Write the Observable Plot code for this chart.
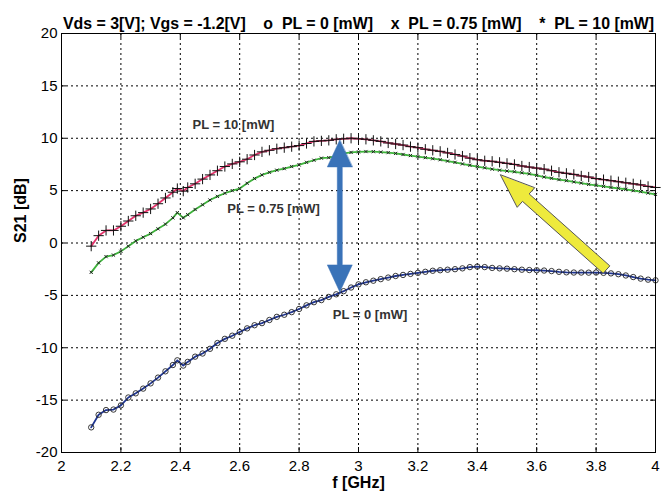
<!DOCTYPE html>
<html><head><meta charset="utf-8">
<script src="https://cdn.jsdelivr.net/npm/d3@7"></script>
<script src="https://cdn.jsdelivr.net/npm/@observablehq/plot@0.6"></script>
<style>body{margin:0;background:#fff}</style>
</head><body><div id="chart"></div>
<script>
// ---- data ----
const freq = [2.1,2.125,2.15,2.175,2.2,2.225,2.25,2.275,2.3,2.325,2.35,2.375,2.39,2.41,
  2.425,2.45,2.475,2.5,2.525,2.55,2.575,2.6,2.625,2.65,2.675,2.7,2.725,2.75,2.775,2.8,2.825,2.85,2.875,2.9,2.925,2.95,2.975,3,
  3.025,3.05,3.075,3.1,3.125,3.15,3.175,3.2,3.225,3.25,3.275,3.3,3.325,3.35,3.375,3.4,3.425,3.45,3.475,3.5,
  3.525,3.55,3.575,3.6,3.625,3.65,3.675,3.7,3.725,3.75,3.775,3.8,3.825,3.85,3.875,3.9,3.925,3.95,3.975,4];
const s21_pl0 = [-17.6,-16.4,-15.95,-15.9,-15.5,-14.75,-14.35,-13.9,-13.4,-12.85,-12.25,-11.65,-11.2,-11.7,
  -11.35,-10.85,-10.55,-10.1,-9.55,-9.15,-8.85,-8.5,-8.15,-7.85,-7.65,-7.35,-7.05,-6.85,-6.6,-6.3,-5.95,-5.65,-5.45,-5.15,-4.9,-4.6,-4.25,-3.95,
  -3.75,-3.6,-3.45,-3.3,-3.15,-3.05,-2.95,-2.85,-2.75,-2.65,-2.6,-2.55,-2.5,-2.42,-2.3,-2.25,-2.3,-2.38,-2.42,-2.45,
  -2.5,-2.55,-2.58,-2.6,-2.63,-2.68,-2.75,-2.8,-2.82,-2.82,-2.83,-2.82,-2.85,-2.9,-2.98,-3.1,-3.25,-3.4,-3.5,-3.56];
const s21_pl075 = [-2.8,-1.9,-1.3,-1.15,-0.8,-0.3,0.2,0.55,0.9,1.35,1.8,2.4,2.9,2.4,
  2.7,3.2,3.65,4.1,4.45,4.75,5.0,5.2,5.7,6.15,6.5,6.75,6.95,7.1,7.3,7.45,7.7,7.9,8.1,8.15,8.3,8.55,8.65,8.7,
  8.73,8.72,8.68,8.63,8.55,8.45,8.35,8.25,8.15,8.05,7.95,7.82,7.7,7.55,7.42,7.3,7.18,7.05,6.95,6.87,
  6.8,6.7,6.6,6.45,6.3,6.18,6.05,5.95,5.83,5.72,5.6,5.5,5.4,5.3,5.22,5.13,5.0,4.9,4.77,4.64];
const s21_pl10 = [-0.3,0.7,1.2,1.2,1.6,2.1,2.6,2.9,3.25,3.75,4.3,4.85,5.2,4.95,
  5.3,5.65,6.1,6.5,6.9,7.3,7.55,7.75,8.0,8.4,8.7,8.85,9.0,9.1,9.2,9.3,9.5,9.7,9.75,9.8,9.9,9.95,10.0,9.95,
  9.9,9.8,9.7,9.55,9.45,9.35,9.2,9.1,8.95,8.85,8.75,8.6,8.45,8.3,8.1,7.95,7.85,7.8,7.7,7.6,
  7.5,7.35,7.25,7.15,7.05,6.9,6.75,6.65,6.55,6.4,6.3,6.15,6.05,5.95,5.85,5.75,5.65,5.55,5.4,5.3];
const xTicks = [2,2.2,2.4,2.6,2.8,3,3.2,3.4,3.6,3.8,4];
const yTicks = [-20,-15,-10,-5,0,5,10,15,20];
const xDomain = [2,4];
const yDomain = [-20,20];
const titleText = "Vds = 3[V]; Vgs = -1.2[V]\u00a0\u00a0\u00a0 o\u00a0 PL = 0 [mW]\u00a0\u00a0\u00a0 x\u00a0 PL = 0.75 [mW]\u00a0\u00a0\u00a0 *\u00a0 PL = 10 [mW]";
const xLabel = "f [GHz]";
const yLabel = "S21 [dB]";
const curveLabels = [
  {f: 2.579, s: 11.27, text: "PL = 10 [mW]"},
  {f: 2.714, s: 3.23, text: "PL = 0.75 [mW]"},
  {f: 3.039, s: -6.84, text: "PL = 0 [mW]"}
];
const blueArrowEnds = {tail: [2.937, -4.67], tip: [2.937, 9.84]};
const yellowArrowEnds = {tail: [3.835, -2.54], tip: [3.478, 6.49]};

// ---- layout ----
const W = 672, H = 497, mL = 61, mR = 17, mT = 33, mB = 45;
const frameW = W - mL - mR, frameH = H - mT - mB;
const kx = frameW / (xDomain[1] - xDomain[0]);
const ky = frameH / (yDomain[1] - yDomain[0]);

function arrowPolygon(tail, tip, headLen, headHalf, shaftHalf, double) {
  const tx = tail[0]*kx, ty = tail[1]*ky, px = tip[0]*kx, py = tip[1]*ky;
  const dx = px - tx, dy = py - ty, L = Math.hypot(dx, dy);
  const ux = dx/L, uy = dy/L, nx = -uy, ny = ux;
  const pt = (a, b) => ({f: a/kx, s: b/ky});
  const bx = px - ux*headLen, by = py - uy*headLen;
  const pts = [pt(px, py), pt(bx + nx*headHalf, by + ny*headHalf), pt(bx + nx*shaftHalf, by + ny*shaftHalf)];
  if (double) {
    const cx = tx + ux*headLen, cy = ty + uy*headLen;
    pts.push(pt(cx + nx*shaftHalf, cy + ny*shaftHalf), pt(cx + nx*headHalf, cy + ny*headHalf), pt(tx, ty),
             pt(cx - nx*headHalf, cy - ny*headHalf), pt(cx - nx*shaftHalf, cy - ny*shaftHalf));
  } else {
    pts.push(pt(tx + nx*shaftHalf, ty + ny*shaftHalf), pt(tx - nx*shaftHalf, ty - ny*shaftHalf));
  }
  pts.push(pt(bx - nx*shaftHalf, by - ny*shaftHalf), pt(bx - nx*headHalf, by - ny*headHalf));
  return pts;
}

const pl0 = freq.map((f, i) => ({f, s: s21_pl0[i]}));
const pl075 = freq.map((f, i) => ({f, s: s21_pl075[i]}));
const pl10 = freq.map((f, i) => ({f, s: s21_pl10[i]}));
const blueArrow = arrowPolygon(blueArrowEnds.tail, blueArrowEnds.tip, 27, 12.5, 2.5, true);
const yellowArrow = arrowPolygon(yellowArrowEnds.tail, yellowArrowEnds.tip, 34, 13, 5, false);

const fmt = d => String(+(+d).toFixed(1));

const chart = Plot.plot({
  width: W, height: H,
  marginLeft: mL, marginRight: mR, marginTop: mT, marginBottom: mB,
  style: {fontFamily: "'Liberation Sans', Arial, sans-serif", background: "white", color: "black"},
  x: {domain: xDomain, label: null},
  y: {domain: yDomain, label: null},
  marks: [
    Plot.gridX(xTicks, {stroke: "black", strokeOpacity: 1, strokeDasharray: "2,3"}),
    Plot.gridY(yTicks, {stroke: "black", strokeOpacity: 1, strokeDasharray: "2,3"}),
    // PL = 0
    Plot.line(pl0, {x: "f", y: "s", stroke: "#1f3590", strokeWidth: 1.8}),
    Plot.dot(pl0, {x: "f", y: "s", r: 2.7, stroke: "#222", strokeWidth: 0.9, fill: "none"}),
    // PL = 0.75
    Plot.line(pl075, {x: "f", y: "s", stroke: "#3fb43c", strokeWidth: 1.8}),
    Plot.dot(pl075, {x: "f", y: "s", symbol: "times", r: 1.6, stroke: "#222", strokeWidth: 1}),
    // PL = 10
    Plot.line(pl10, {x: "f", y: "s", stroke: "#e3336b", strokeWidth: 1.8}),
    Plot.dot(pl10, {x: "f", y: "s", symbol: "plus", r: 3.4, stroke: "#111", strokeWidth: 1}),
    // annotation arrows
    Plot.line(blueArrow, {x: "f", y: "s", fill: "#3a73b8", stroke: "#3a73b8", strokeWidth: 0.5, curve: "linear-closed"}),
    Plot.line(yellowArrow, {x: "f", y: "s", fill: "#eeea3c", stroke: "#555", strokeWidth: 1, curve: "linear-closed"}),
    // curve labels
    Plot.text(curveLabels, {x: "f", y: "s", text: "text", fontSize: 13, fontWeight: "bold", fill: "#333"}),
    // frame & inner ticks
    Plot.frame({stroke: "black", strokeWidth: 1}),
    Plot.tickX(xTicks, {x: d => d, insetTop: frameH - 5, stroke: "black"}),
    Plot.tickX(xTicks, {x: d => d, insetBottom: frameH - 5, stroke: "black"}),
    Plot.tickY(yTicks, {y: d => d, insetRight: frameW - 5, stroke: "black"}),
    Plot.tickY(yTicks, {y: d => d, insetLeft: frameW - 5, stroke: "black"}),
    // axes labels
    Plot.axisX({ticks: xTicks, tickSize: 0, tickPadding: 8, fontSize: 15, tickFormat: fmt, label: null}),
    Plot.axisY({ticks: yTicks, tickSize: 0, tickPadding: 4, fontSize: 15, tickFormat: d => String(d), label: null}),
    Plot.text([xLabel], {text: d => d, frameAnchor: "bottom", dy: 35, fontSize: 16, fontWeight: "bold"}),
    Plot.text([yLabel], {text: d => d, frameAnchor: "left", dx: -41, rotate: -90, fontSize: 16, fontWeight: "bold"}),
    Plot.text([titleText], {text: d => d, frameAnchor: "top", dy: -16, fontSize: 15.9, fontWeight: "bold"})
  ]
});
document.getElementById("chart").appendChild(chart);
</script>
</body></html>
